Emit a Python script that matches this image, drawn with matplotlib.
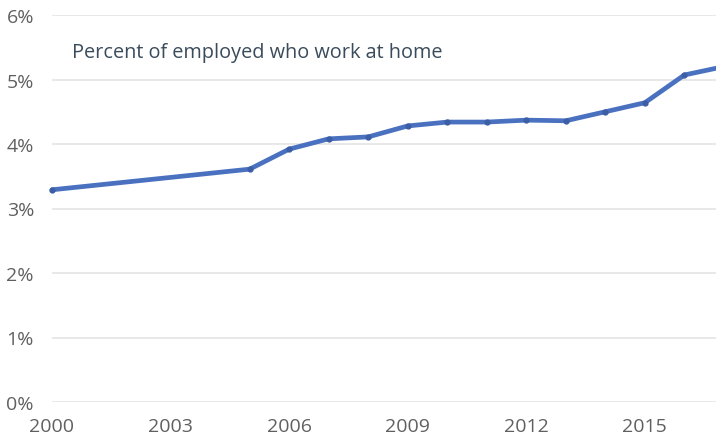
import matplotlib.pyplot as plt

# Share of employed people working at home, by survey year
years = [2000, 2005, 2006, 2007, 2008, 2009, 2010, 2011, 2012, 2013, 2014, 2015, 2016, 2017]
pct_home = [3.29, 3.61, 3.92, 4.08, 4.11, 4.28, 4.34, 4.34, 4.37, 4.36, 4.50, 4.64, 5.07, 5.20]

x_ticks = [2000, 2003, 2006, 2009, 2012, 2015]
y_ticks = [0, 1, 2, 3, 4, 5, 6]
y_labels = [f'{v}%' for v in y_ticks]

plt.rcParams['font.family'] = ['Open Sans', 'DejaVu Sans']

fig = plt.figure(figsize=(7.16, 4.39), dpi=100)
ax = fig.add_axes([52 / 716, 1 - 403 / 439, 664 / 716, 387 / 439])

ax.plot(years, pct_home, color='#4a71c0', linewidth=3.4, solid_capstyle='round',
        solid_joinstyle='round', clip_on=False, zorder=3)
ax.plot(years, pct_home, 'o', color='#3c5ea6', markersize=3.5, clip_on=False, zorder=4)

ax.set_xlim(2000, 2016.8)
ax.set_ylim(0, 6)
ax.set_xticks(x_ticks)
ax.set_yticks(y_ticks)
ax.set_yticklabels(y_labels)

for s in ax.spines.values():
    s.set_visible(False)
ax.grid(axis='y', color='#e6e6e6', linewidth=1.3)
ax.grid(axis='x', visible=False)
ax.set_axisbelow(True)
ax.tick_params(axis='both', length=0, labelsize=14, colors='#606060')
ax.tick_params(axis='y', pad=13)
ax.tick_params(axis='x', pad=11)

ax.text(2000.5, 5.42, 'Percent of employed who work at home', fontsize=14.3,
        color='#3a4b5c', va='center', ha='left')

plt.savefig('out.png', dpi=100)
plt.close()
